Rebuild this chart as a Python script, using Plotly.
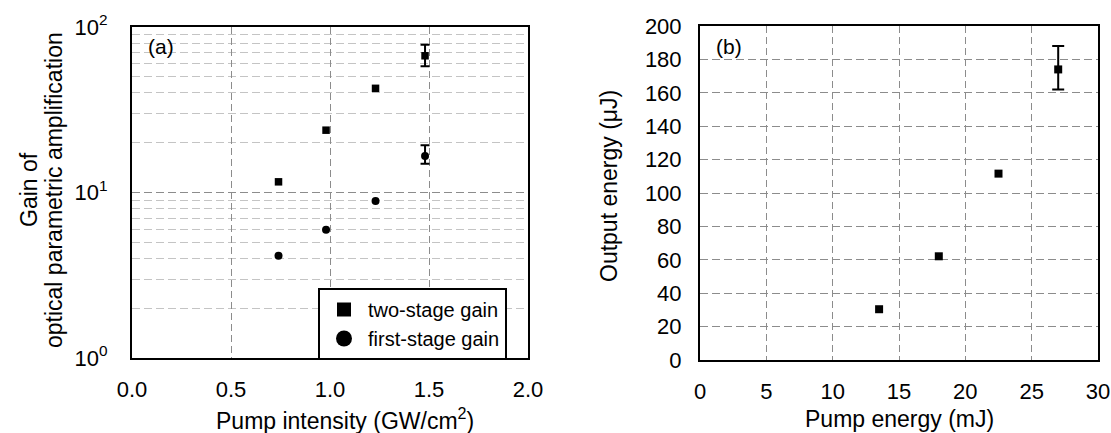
import plotly.graph_objects as go

# ---- panel (a): OPA gain vs pump intensity ----
intensity_two = [0.74, 0.98, 1.23, 1.48]
gain_two = [11.6, 23.8, 42.6, 67.0]
intensity_first = [0.74, 0.98, 1.23, 1.48]
gain_first = [4.15, 5.95, 8.9, 16.6]
err_two_plus, err_two_minus = 11.0, 9.0       # last two-stage point
err_first_plus, err_first_minus = 2.7, 1.7    # last first-stage point

# ---- panel (b): output energy vs pump energy ----
pump_energy = [13.5, 18.0, 22.5, 27.0]
output_energy = [30.4, 62.1, 111.6, 174.0]
err_out_plus, err_out_minus = 14.0, 12.0      # last point

a_xticks = [0.0, 0.5, 1.0, 1.5, 2.0]
a_yticks = [1, 10, 100]
a_ytext = ["10<sup>0</sup>", "10<sup>1</sup>", "10<sup>2</sup>"]
a_minor = [2, 3, 4, 5, 6, 7, 8, 9, 20, 30, 40, 50, 60, 70, 80, 90]
b_xticks = [0, 5, 10, 15, 20, 25, 30]
b_yticks = list(range(0, 201, 20))

W, H = 1111, 433
FONT = "Liberation Sans, Arial, sans-serif"
GRID = "#8c8c8c"
GRID_MINOR = "#c4c4c4"

fig = go.Figure()

# two-stage gain
fig.add_trace(go.Scatter(
    x=intensity_two, y=gain_two, mode="markers", showlegend=False,
    marker=dict(symbol="square", size=7.5, color="black"),
    xaxis="x", yaxis="y"))
fig.add_trace(go.Scatter(
    x=intensity_two[-1:], y=gain_two[-1:], mode="markers", showlegend=False,
    marker=dict(size=1, color="rgba(0,0,0,0)"),
    error_y=dict(type="data", symmetric=False, array=[err_two_plus],
                 arrayminus=[err_two_minus], color="black", thickness=2, width=4.5),
    xaxis="x", yaxis="y"))
# first-stage gain
fig.add_trace(go.Scatter(
    x=intensity_first, y=gain_first, mode="markers", showlegend=False,
    marker=dict(symbol="circle", size=8, color="black"),
    xaxis="x", yaxis="y"))
fig.add_trace(go.Scatter(
    x=intensity_first[-1:], y=gain_first[-1:], mode="markers", showlegend=False,
    marker=dict(size=1, color="rgba(0,0,0,0)"),
    error_y=dict(type="data", symmetric=False, array=[err_first_plus],
                 arrayminus=[err_first_minus], color="black", thickness=2, width=4.5),
    xaxis="x", yaxis="y"))
# legend entries with larger symbols
fig.add_trace(go.Scatter(
    x=[None], y=[None], mode="markers", name="two-stage gain",
    marker=dict(symbol="square", size=14, color="black"), xaxis="x", yaxis="y"))
fig.add_trace(go.Scatter(
    x=[None], y=[None], mode="markers", name="first-stage gain",
    marker=dict(symbol="circle", size=16, color="black"), xaxis="x", yaxis="y"))

# output energy
fig.add_trace(go.Scatter(
    x=pump_energy, y=output_energy, mode="markers", showlegend=False,
    marker=dict(symbol="square", size=8, color="black"),
    xaxis="x2", yaxis="y2"))
fig.add_trace(go.Scatter(
    x=pump_energy[-1:], y=output_energy[-1:], mode="markers", showlegend=False,
    marker=dict(size=1, color="rgba(0,0,0,0)"),
    error_y=dict(type="data", symmetric=False, array=[err_out_plus],
                 arrayminus=[err_out_minus], color="black", thickness=2, width=6),
    xaxis="x2", yaxis="y2"))

frame = dict(showline=True, mirror=True, linecolor="black", linewidth=2,
             zeroline=False, ticks="", automargin=False,
             tickfont=dict(size=22, color="black", family=FONT))

fig.update_layout(
    width=W, height=H,
    margin=dict(l=0, r=0, t=0, b=0, autoexpand=False),
    paper_bgcolor="white", plot_bgcolor="white",
    font=dict(family=FONT, color="black"),
    xaxis=dict(domain=[132 / W, 528 / W], range=[0, 2], tickvals=a_xticks,
               tickformat=".1f", showgrid=True, gridcolor=GRID, griddash="7px,4px",
               gridwidth=1.3, ticklabelstandoff=11, anchor="y", **frame),
    yaxis=dict(domain=[1 - 358 / H, 1 - 27 / H], type="log", range=[0, 2],
               tickvals=a_yticks, ticktext=a_ytext, showgrid=True, gridcolor=GRID,
               griddash="8px,4px", gridwidth=1.3, ticklabelstandoff=18, anchor="x",
               minor=dict(tickvals=a_minor, showgrid=True, gridcolor=GRID_MINOR,
                          griddash="8px,4px", gridwidth=1.3, ticks=""),
               **frame),
    xaxis2=dict(domain=[700 / W, 1098 / W], range=[0, 30], tickvals=b_xticks,
                showgrid=True, gridcolor=GRID, griddash="7px,4px", gridwidth=1.3,
                ticklabelstandoff=11, anchor="y2", **frame),
    yaxis2=dict(domain=[1 - 360 / H, 1 - 26 / H], range=[0, 200], tickvals=b_yticks,
                showgrid=True, gridcolor=GRID, griddash="8px,4px", gridwidth=1.3,
                ticklabelstandoff=12, anchor="x2", **frame),
    legend=dict(x=318 / W, y=1 - 288 / H, xanchor="left", yanchor="top",
                bgcolor="white", bordercolor="black", borderwidth=2,
                font=dict(size=20, family=FONT, color="black"),
                tracegroupgap=0, itemsizing="trace", itemwidth=38),
    showlegend=True,
)

ann = dict(xref="paper", yref="paper", showarrow=False,
           font=dict(size=23, family=FONT, color="black"))
fig.add_annotation(text="Gain of", x=29 / W, y=1 - 190 / H, textangle=-90,
                   xanchor="center", yanchor="middle", **ann)
fig.add_annotation(text="optical parametric amplification", x=54 / W, y=1 - 190 / H,
                   textangle=-90, xanchor="center", yanchor="middle", **ann)
fig.add_annotation(text="Pump intensity (GW/cm<sup>2</sup>)", x=345 / W, y=1 - 419 / H,
                   xanchor="center", yanchor="middle", **ann)
fig.add_annotation(text="Output energy (μJ)", x=609 / W, y=1 - 186 / H, textangle=-90,
                   xanchor="center", yanchor="middle", **ann)
fig.add_annotation(text="Pump energy (mJ)", x=899 / W, y=1 - 419 / H,
                   xanchor="center", yanchor="middle", **ann)

lab = dict(xref="paper", yref="paper", showarrow=False, xanchor="left", yanchor="middle",
           font=dict(size=21, family=FONT, color="black"))
fig.add_annotation(text="(a)", x=146 / W, y=1 - 46 / H, **lab)
fig.add_annotation(text="(b)", x=714 / W, y=1 - 46 / H, **lab)

fig.write_html("out.html")
